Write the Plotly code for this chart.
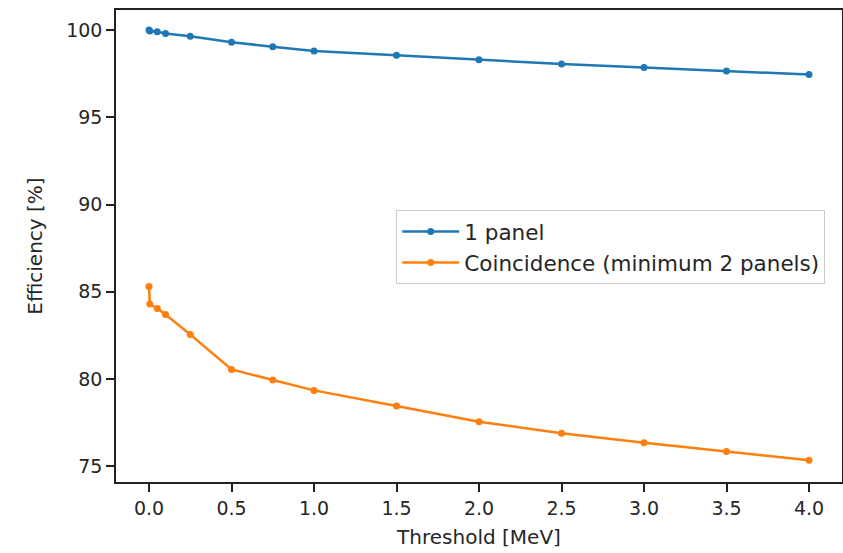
import plotly.graph_objects as go

threshold = [0.0, 0.005, 0.05, 0.1, 0.25, 0.5, 0.75, 1.0, 1.5, 2.0, 2.5, 3.0, 3.5, 4.0]
one_panel = [100.0, 99.95, 99.9, 99.8, 99.65, 99.3, 99.05, 98.8, 98.55, 98.3, 98.05, 97.85, 97.65, 97.45]
coincidence = [85.3, 84.3, 84.05, 83.7, 82.55, 80.55, 79.95, 79.35, 78.45, 77.55, 76.9, 76.35, 75.85, 75.35]

tick_x = [0.0, 0.5, 1.0, 1.5, 2.0, 2.5, 3.0, 3.5, 4.0]
tick_y = [75, 80, 85, 90, 95, 100]

font = "DejaVu Sans, sans-serif"
txt = "#262626"

fig = go.Figure()
fig.add_trace(go.Scatter(x=threshold, y=one_panel, mode="lines+markers", name="1 panel",
                         line=dict(color="#1f77b4", width=2.5),
                         marker=dict(color="#1f77b4", size=7)))
fig.add_trace(go.Scatter(x=threshold, y=coincidence, mode="lines+markers",
                         name="Coincidence (minimum 2 panels)",
                         line=dict(color="#ff7f0e", width=2.5),
                         marker=dict(color="#ff7f0e", size=7)))

axis_common = dict(showline=True, linecolor="#222222", linewidth=1.5, mirror=True,
                   ticks="outside", ticklen=8, tickcolor="#222222", tickwidth=1.5,
                   showgrid=False, zeroline=False,
                   tickfont=dict(family=font, size=19, color=txt))

fig.update_xaxes(range=[-0.2, 4.2], tickvals=tick_x,
                 ticktext=[f"{v:.1f}" for v in tick_x],
                 title=dict(text="Threshold [MeV]", font=dict(family=font, size=20, color=txt),
                            standoff=12),
                 **axis_common)
fig.update_yaxes(range=[74.1, 101.15], tickvals=tick_y,
                 title=dict(text="Efficiency [%]", font=dict(family=font, size=20, color=txt),
                            standoff=18),
                 **axis_common)

fig.update_layout(
    width=843, height=553,
    margin=dict(l=116, r=1, t=10, b=71, autoexpand=False),
    paper_bgcolor="white", plot_bgcolor="white",
    font=dict(family=font, size=19, color=txt),
    legend=dict(x=0.386, y=0.576, xanchor="left", yanchor="top",
                bordercolor="#cccccc", borderwidth=1, bgcolor="rgba(255,255,255,0.8)",
                itemwidth=57,
                font=dict(family=font, size=21.5, color=txt)),
    showlegend=True,
)

fig.write_html("out.html", config={"displayModeBar": False},
               post_script="document.body.style.margin='0';"
                           "document.documentElement.style.overflow='hidden';")
